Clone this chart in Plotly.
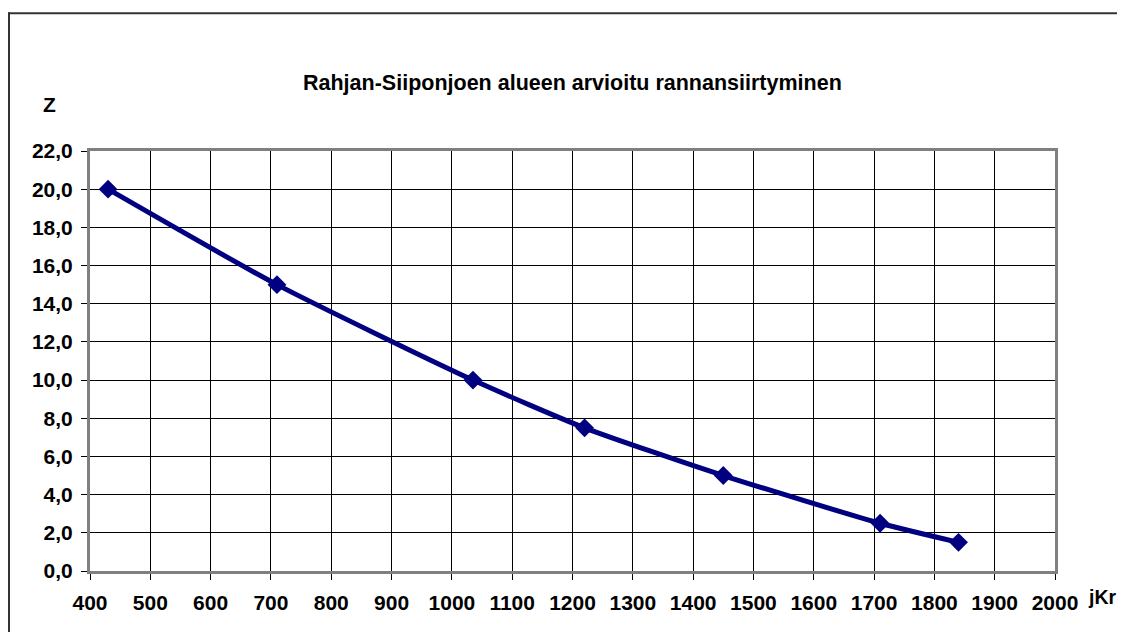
import plotly.graph_objects as go

# Data
years = [430, 710, 1035, 1220, 1450, 1710, 1840]
z_values = [20.0, 15.0, 10.0, 7.5, 5.0, 2.5, 1.5]

title_text = "Rahjan-Siiponjoen alueen arvioitu rannansiirtyminen"
x_label = "jKr"
y_label = "Z"

# figure sits inside the page body (8px margin), so size it to fit the window
W, H = 1117, 624
L, R, T, B = 82, 70, 143, 60.5
FONT = "Liberation Sans, Arial, sans-serif"


def px2x(px):
    return (px - L) / (W - L - R)


def py2y(py):
    return (H - B - py) / (H - T - B)


fig = go.Figure()
fig.add_trace(go.Scatter(
    x=years, y=z_values,
    mode="lines+markers",
    line=dict(color="#000080", width=5, shape="spline", smoothing=0.6),
    marker=dict(symbol="diamond", size=14.5, color="#000080"),
    showlegend=False,
    hoverinfo="x+y",
))

axis_common = dict(
    showline=True, linecolor="#808080", linewidth=3, mirror=True,
    showgrid=True, gridcolor="#000000", gridwidth=1,
    ticks="outside", ticklen=6, tickcolor="#000000", tickwidth=1,
    tickfont=dict(family=FONT, size=21, color="#000000", weight="bold"),
    zeroline=False,
)

fig.update_xaxes(range=[400, 2000], dtick=100, tick0=400, tickformat="d",
                 ticklabelstandoff=5, **axis_common)
fig.update_yaxes(range=[0, 22], dtick=2, tick0=0, tickformat=".1f",
                 ticklabelstandoff=4, **axis_common)

border = dict(color="#333333", width=2)

fig.update_layout(
    width=W, height=H,
    margin=dict(l=L, r=R, t=T, b=B, pad=0),
    paper_bgcolor="white", plot_bgcolor="white",
    separators=", ",
    font=dict(family=FONT, color="#000000"),
    annotations=[
        dict(text="<b>%s</b>" % title_text, x=px2x(564), y=py2y(75),
             xref="paper", yref="paper", xanchor="center", yanchor="middle",
             showarrow=False, font=dict(family=FONT, size=21.5, color="#000000")),
        dict(text="<b>%s</b>" % y_label, x=px2x(41), y=py2y(96),
             xref="paper", yref="paper", xanchor="center", yanchor="middle",
             showarrow=False, font=dict(family=FONT, size=21, color="#000000")),
        dict(text="<b>%s</b>" % x_label, x=px2x(1078), y=py2y(590),
             xref="paper", yref="paper", xanchor="left", yanchor="middle",
             showarrow=False, font=dict(family=FONT, size=19.5, color="#000000")),
    ],
    shapes=[
        # outer chart-area border: only top and left edges fall inside the view
        dict(type="line", xref="paper", yref="paper",
             x0=px2x(0.3), x1=px2x(W + 10), y0=py2y(5.2), y1=py2y(5.2),
             line=border, layer="below"),
        dict(type="line", xref="paper", yref="paper",
             x0=px2x(1), x1=px2x(1), y0=py2y(4.2), y1=py2y(H + 10),
             line=border, layer="below"),
    ],
)

fig.write_html("out.html")
